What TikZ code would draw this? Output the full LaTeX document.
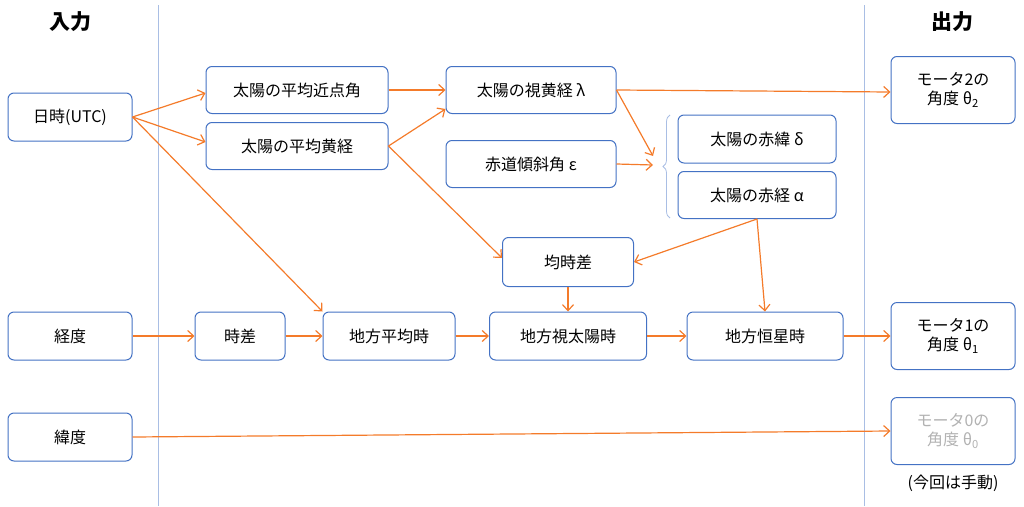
\documentclass[tikz,border=0pt]{standalone}
\usepackage{fontspec}
\setmainfont{Noto Sans CJK JP}
\usetikzlibrary{arrows.meta,decorations.pathreplacing}
\definecolor{bx}{HTML}{4472C4}
\definecolor{ar}{HTML}{F47B2A}
\definecolor{vl}{HTML}{A9BEE4}
\begin{document}
\begin{tikzpicture}[x=1pt,y=-1pt,
  box/.style={draw=bx,line width=1pt,rounded corners=6pt,fill=white,inner sep=0pt,font=\fontsize{16}{19}\selectfont,align=center},
  arr/.style={draw=ar,line width=1.2pt,-{Straight Barb[length=6pt,width=11pt]}},
  hd/.style={font=\fontsize{21}{24}\selectfont\bfseries}]
\useasboundingbox (0,0) rectangle (1024,506);
\draw[vl,line width=0.8pt] (158,5) -- (158,506) (864,5) -- (864,506);
\node[hd] (in) at (70,22) {入力};
\node[hd] (out) at (952,22) {出力};
\node[box,minimum width=124pt,minimum height=48pt] (utc) at (70,117) {日時(UTC)};
\node[box,minimum width=124pt,minimum height=48pt] (lon) at (70,336) {経度};
\node[box,minimum width=124pt,minimum height=48pt] (lat) at (70,437) {緯度};
\node[box,minimum width=182pt,minimum height=47pt] (ma) at (297,90) {太陽の平均近点角};
\node[box,minimum width=182pt,minimum height=47pt] (ml) at (297,146) {太陽の平均黄経};
\node[box,minimum width=170pt,minimum height=47pt] (lam) at (531,90) {太陽の視黄経 λ};
\node[box,minimum width=170pt,minimum height=47pt] (eps) at (531,164) {赤道傾斜角 ε};
\node[box,minimum width=158pt,minimum height=48pt] (dec) at (757,139) {太陽の赤緯 δ};
\node[box,minimum width=158pt,minimum height=47pt] (ra) at (757,195) {太陽の赤経 α};
\node[box,minimum width=131pt,minimum height=49pt] (eot) at (568,262) {均時差};
\node[box,minimum width=90pt,minimum height=48pt] (td) at (240,336) {時差};
\node[box,minimum width=132pt,minimum height=48pt] (lmt) at (389,336) {地方平均時};
\node[box,minimum width=157pt,minimum height=48pt] (last) at (568,336) {地方視太陽時};
\node[box,minimum width=156pt,minimum height=48pt] (lst) at (765,336) {地方恒星時};
\node[box,minimum width=124pt,minimum height=67pt] (m2) at (953,90) {モータ2の\\角度 θ\textsubscript{2}};
\node[box,minimum width=124pt,minimum height=67pt] (m1) at (953,336) {モータ1の\\角度 θ\textsubscript{1}};
\node[box,minimum width=124pt,minimum height=67pt,text=black!30] (m0) at (953,431) {モータ0の\\角度 θ\textsubscript{0}};
\node[font=\fontsize{16}{19}\selectfont] (note) at (953,483) {(今回は手動)};
\draw[vl,line width=0.8pt,decorate,decoration={brace,amplitude=7pt}] (670,218) -- (670,115) coordinate[pos=0.5] (bmid);
\coordinate (btip) at (654,160);
\draw[arr] (utc.east) -- (ma.west|-0,93);
\draw[arr] (utc.east) -- (ml.west|-0,142);
\draw[arr] (utc.east) -- (lmt.north west);
\draw[arr] (ma.east) -- (lam.west);
\draw[arr] (ml.east) -- (lam.south west|-0,109);
\draw[arr] (ml.east) -- (eot.west|-0,258);
\draw[arr] (lam.east) -- (m2.west|-0,92);
\draw[arr] (lam.east) -- (653,156);
\draw[arr] (eps.east) -- (653,165);
\draw[arr] (ra.south) -- (eot.east);
\draw[arr] (ra.south) -- (lst.north);
\draw[arr] (eot.south) -- (last.north);
\draw[arr] (lon.east) -- (td.west);
\draw[arr] (td.east) -- (lmt.west);
\draw[arr] (lmt.east) -- (last.west);
\draw[arr] (last.east) -- (lst.west);
\draw[arr] (lst.east) -- (m1.west);
\draw[arr] (lat.east) -- (m0.west);
\end{tikzpicture}
\end{document}
